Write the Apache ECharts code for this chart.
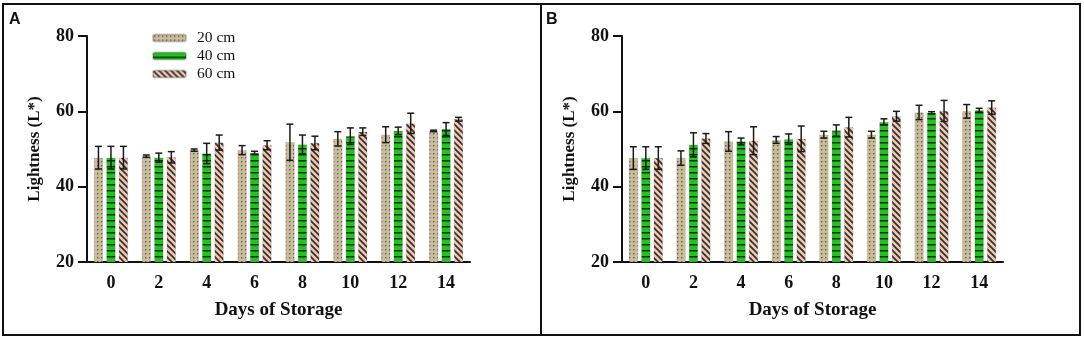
<!DOCTYPE html>
<html>
<head>
<meta charset="utf-8">
<script src="https://cdn.jsdelivr.net/npm/echarts@6/dist/echarts.min.js"></script>
<style>
  html, body { margin: 0; padding: 0; background: #fff; }
  #main { width: 1084px; height: 339px; }
</style>
</head>
<body>
<div id="main"></div>
<script>
// days of storage
var days = ['0', '2', '4', '6', '8', '10', '12', '14'];
var seriesNames = ['20 cm', '40 cm', '60 cm'];

// panel A - means and error (sd)
var a20 = [47.7, 48.1, 49.7, 49.7, 51.8, 52.7, 53.8, 54.8];
var a40 = [47.7, 47.7, 48.8, 49.0, 51.2, 53.4, 54.8, 55.3];
var a60 = [47.7, 47.8, 51.7, 51.0, 51.6, 54.6, 56.8, 57.9];
var a20err = [3.0, 0.3, 0.3, 1.2, 4.8, 1.9, 2.1, 0.2];
var a40err = [3.0, 1.2, 2.7, 0.4, 2.5, 2.2, 1.0, 1.7];
var a60err = [3.0, 1.5, 2.0, 1.2, 1.8, 1.0, 2.7, 0.5];

// panel B
var b20 = [47.6, 47.6, 52.0, 52.4, 53.8, 53.8, 59.7, 60.0];
var b40 = [47.6, 51.1, 52.0, 52.6, 54.9, 57.2, 59.6, 60.3];
var b60 = [47.6, 52.8, 52.2, 52.7, 55.8, 58.7, 60.1, 61.0];
var b20err = [3.0, 1.9, 2.6, 0.9, 0.9, 0.9, 1.9, 1.8];
var b40err = [3.0, 3.2, 0.9, 1.4, 1.5, 0.8, 0.3, 0.5];
var b60err = [3.0, 1.3, 3.7, 3.4, 2.6, 1.3, 2.8, 1.8];

var yTicks = [20, 40, 60, 80];

function makeCanvas(w, h, draw) {
  var c = document.createElement('canvas');
  c.width = w; c.height = h;
  draw(c.getContext('2d'));
  return c;
}
// dotted tan
var dotPat = makeCanvas(4, 4, function (ctx) {
  ctx.fillStyle = '#cbbd92';
  ctx.fillRect(0, 0, 4, 4);
  ctx.fillStyle = '#5d5b88';
  ctx.fillRect(1, 1, 1.4, 1.4);
});
// green with horizontal black lines
var linePat = makeCanvas(4, 6, function (ctx) {
  ctx.fillStyle = '#1fc41f';
  ctx.fillRect(0, 0, 4, 6);
  ctx.fillStyle = '#0d2a0d';
  ctx.fillRect(0, 4, 4, 1.5);
});
// peach with diagonal stripes
var diagPat = makeCanvas(6, 6, function (ctx) {
  ctx.fillStyle = '#f7c89c';
  ctx.fillRect(0, 0, 6, 6);
  ctx.strokeStyle = '#2a2f4a';
  ctx.lineWidth = 1.7;
  ctx.beginPath();
  ctx.moveTo(-1, -1); ctx.lineTo(7, 7);
  ctx.moveTo(-1, 5); ctx.lineTo(1, 7);
  ctx.moveTo(5, -1); ctx.lineTo(7, 1);
  ctx.stroke();
});
var patterns = [dotPat, linePat, diagPat];

var BAR_W = 9;
var BAR_STEP = 12.5;
var serif = 'Liberation Serif';

function xAxisFor(gi) {
  return {
    type: 'category', gridIndex: gi, data: days,
    name: 'Days of Storage', nameLocation: 'middle', nameGap: 39,
    nameTextStyle: { fontFamily: serif, fontWeight: 'bold', fontSize: 19, color: '#111' },
    axisLine: { lineStyle: { color: '#111', width: 2 } },
    axisTick: { alignWithLabel: true, length: 9, lineStyle: { color: '#111', width: 2 } },
    axisLabel: { fontFamily: serif, fontWeight: 'bold', fontSize: 18, color: '#111', margin: 12 }
  };
}
function yAxisFor(gi) {
  return {
    type: 'value', gridIndex: gi, min: yTicks[0], max: yTicks[yTicks.length - 1], interval: 20,
    name: 'Lightness (L*)', nameLocation: 'middle', nameGap: 44,
    nameTextStyle: { fontFamily: serif, fontWeight: 'bold', fontSize: 17, color: '#111' },
    splitLine: { show: false },
    axisLine: { show: true, lineStyle: { color: '#111', width: 2 } },
    axisTick: { show: true, length: 9, lineStyle: { color: '#111', width: 2 } },
    axisLabel: { fontFamily: serif, fontWeight: 'bold', fontSize: 18, color: '#111', margin: 13 }
  };
}

function barSeries(gi, k, vals) {
  return {
    name: seriesNames[k], type: 'bar', xAxisIndex: gi, yAxisIndex: gi,
    data: vals, barWidth: BAR_W, barGap: '38%',
    itemStyle: { color: { image: patterns[k], repeat: 'repeat' }, borderColor: 'rgba(60,60,60,0.25)', borderWidth: 0.5 },
    z: 2
  };
}
function errSeries(gi, k, vals, errs) {
  var data = vals.map(function (v, i) { return [i, v, errs[i]]; });
  return {
    type: 'custom', xAxisIndex: gi, yAxisIndex: gi, z: 5, silent: true,
    data: data,
    renderItem: function (params, api) {
      var c = api.coord([api.value(0), api.value(1)]);
      var x = c[0] + (k - 1) * BAR_STEP;
      var hi = api.coord([api.value(0), api.value(1) + api.value(2)])[1];
      var lo = api.coord([api.value(0), api.value(1) - api.value(2)])[1];
      var st = { stroke: '#1a1a1a', lineWidth: 1.5 };
      return {
        type: 'group', children: [
          { type: 'line', shape: { x1: x, y1: hi, x2: x, y2: lo }, style: st },
          { type: 'line', shape: { x1: x - 3.5, y1: hi, x2: x + 3.5, y2: hi }, style: st },
          { type: 'line', shape: { x1: x - 3.5, y1: lo, x2: x + 3.5, y2: lo }, style: st }
        ]
      };
    }
  };
}

var chart = echarts.init(document.getElementById('main'));
chart.setOption({
  backgroundColor: '#fff',
  animation: false,
  grid: [
    { left: 87, top: 36, width: 383, height: 226 },
    { left: 622, top: 36, width: 381, height: 226 }
  ],
  xAxis: [xAxisFor(0), xAxisFor(1)],
  yAxis: [yAxisFor(0), yAxisFor(1)],
  legend: {
    orient: 'vertical', left: 147, top: 25, itemWidth: 33, itemHeight: 7, itemGap: 2,
    data: seriesNames,
    textStyle: { fontFamily: serif, fontSize: 15.5, color: '#111', padding: [0, 0, 0, 6] }
  },
  graphic: [
    { type: 'rect', shape: { x: 3, y: 4, width: 1077, height: 331 }, style: { fill: 'none', stroke: '#111', lineWidth: 2 } },
    { type: 'line', shape: { x1: 541, y1: 4, x2: 541, y2: 335 }, style: { stroke: '#111', lineWidth: 2 } },
    { type: 'text', left: 9, top: 12, style: { text: 'A', font: 'bold 16px "Liberation Sans"', fill: '#111' } },
    { type: 'text', left: 546, top: 12, style: { text: 'B', font: 'bold 16px "Liberation Sans"', fill: '#111' } }
  ],
  series: [
    barSeries(0, 0, a20), barSeries(0, 1, a40), barSeries(0, 2, a60),
    barSeries(1, 0, b20), barSeries(1, 1, b40), barSeries(1, 2, b60),
    errSeries(0, 0, a20, a20err), errSeries(0, 1, a40, a40err), errSeries(0, 2, a60, a60err),
    errSeries(1, 0, b20, b20err), errSeries(1, 1, b40, b40err), errSeries(1, 2, b60, b60err)
  ]
});
</script>
</body>
</html>
